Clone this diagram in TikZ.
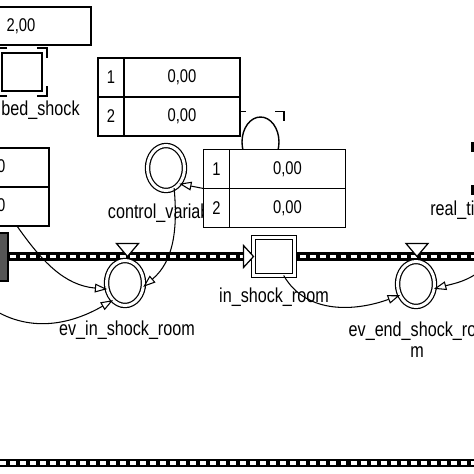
\documentclass[tikz,border=0pt]{standalone}
\usepackage{fontspec}
\setmainfont{Liberation Sans}[FakeStretch=0.8]
\usepackage{tikz}
\usetikzlibrary{shapes.geometric,arrows.meta,positioning}
\tikzset{>={Triangle[open,length=7pt,width=5pt]}}
\tikzset{
  cellbox/.style={shape=rectangle,draw,fill=white,line width=0.85pt,inner sep=0pt,outer sep=0pt,minimum height=0.78cm,font=\fontsize{10.5}{12}\selectfont},
  idxcell/.style={cellbox,minimum width=0.52cm},
  valcell/.style={cellbox,minimum width=2.32cm},
  auxvar/.style={shape=ellipse,draw,fill=white,double,double distance=1.7pt,line width=0.7pt,minimum width=0.74cm,minimum height=0.9cm,inner sep=0pt,outer sep=0pt},
  ghostvar/.style={shape=ellipse,draw,fill=white,line width=0.8pt,minimum width=0.74cm,minimum height=1.0cm,inner sep=0pt},
  levelbox/.style={shape=rectangle,draw,fill=white,double,double distance=1.4pt,line width=0.8pt,minimum width=0.82cm,minimum height=0.76cm,inner sep=0pt,outer sep=0pt},
  varlabel/.style={font=\fontsize{11.5}{12}\selectfont,inner sep=0pt},
  pipe/.style={line width=5pt,postaction={draw=white,line width=1.9pt,dash pattern=on 3.4pt off 2.3pt}},
  link/.style={->,line width=0.6pt},
  valve/.style={draw,fill=white,line width=0.7pt},
  bracket/.style={line width=0.9pt}
}

\begin{document}
\begin{tikzpicture}[x=0.02cm,y=0.02cm]

\useasboundingbox (0,0) rectangle (474,-474);
\clip (0,0) rectangle (474,-474);

\draw[pipe] (-10,-256.5) -- (490,-256.5);
\draw[pipe] (-10,-463) -- (490,-463);

\path (260.5,-142) node (g1) [ghostvar] {};
\draw[bracket] ([shift={(-21,5)}]g1.north) -- ++(6,0);
\draw[bracket] ([shift={(-21,5)}]g1.north) -- ++(0,-10);
\draw[bracket] ([shift={(14.5,5)}]g1.north) -- ++(9,0) -- ++(0,-10);

\fill (471,-142) rectangle (476,-152);
\fill (471,-185) rectangle (476,-195);

\path (80,-110) node (lbs) [varlabel,anchor=east] {bed\_shock};
\path (165,-213) node (lcv) [varlabel] {control\_variable};
\path (127,-330) node (lev1) [varlabel] {ev\_in\_shock\_room};
\path (274,-297) node (lis) [varlabel] {in\_shock\_room};
\path (417,-340) node (lev2) [varlabel,align=center] {ev\_end\_shock\_roo\\m};
\path (430,-210) node (lrt) [varlabel,anchor=west] {real\_time};

\path (21,-26) node (cst) [cellbox,minimum width=2.8cm,minimum height=0.76cm] {2,00};

\path (111,-77.5) node (t1a) [idxcell] {1};
\node (t1b) [valcell,right=0pt of t1a] {0,00};
\node (t1c) [idxcell,below=0pt of t1a] {2};
\node (t1d) [valcell,right=0pt of t1c] {0,00};

\path (-80,-167.5) node (t2a) [idxcell] {1};
\node (t2b) [valcell,right=0pt of t2a] {0,00};
\node (t2c) [idxcell,below=0pt of t2a] {2};
\node (t2d) [valcell,right=0pt of t2c] {0,00};

\path (216.5,-169) node (t3a) [idxcell] {1};
\node (t3b) [valcell,right=0pt of t3a] {0,00};
\node (t3c) [idxcell,below=0pt of t3a] {2};
\node (t3d) [valcell,right=0pt of t3c] {0,00};

\path (22,-72) node (s3) [shape=rectangle,draw,line width=1pt,minimum width=0.8cm,minimum height=0.76cm,inner sep=0pt,outer sep=0pt] {};
\draw[bracket] ([shift={(-5,5)}]s3.north east) -- ++(10,0) -- ++(0,-10);
\draw[bracket] ([shift={(-5,-5)}]s3.south east) -- ++(10,0) -- ++(0,10);
\draw[bracket] ([shift={(5,5)}]s3.north west) -- ++(-10,0) -- ++(0,-10);
\draw[bracket] ([shift={(5,-5)}]s3.south west) -- ++(-10,0) -- ++(0,10);

\path (166,-168) node (cv) [auxvar] {};
\path (125,-283) node (ev1) [auxvar] {};
\path (416,-284) node (ev2) [auxvar] {};

\coordinate (v1) at (127.5,-256.5);
\coordinate (v2) at (417,-256.5);
\draw[valve] (v1) -- ++(-11,13) -- ++(22,0) -- cycle;
\draw[valve] (v2) -- ++(-11,13) -- ++(22,0) -- cycle;

\path (-16,-257) node (s1) [shape=rectangle,draw,line width=0.9pt,fill={rgb:red,128;green,128;blue,128},minimum width=0.96cm,minimum height=0.96cm,inner sep=0pt,outer sep=0pt] {};
\path (274,-256.5) node (s2) [levelbox] {};
\draw[valve] (s2.west) -- ++(-10,11) -- ++(0,-22) -- cycle;

\coordinate (c2s) at (-12,-306);
\coordinate (c6s) at (484,-268);

\draw[link] ([shift={(26,0)}]t2d.south) to[out=-55,in=175] (ev1.199);
\draw[link] (c2s) to[out=-35,in=210] (ev1.235);
\draw[link] (cv.-68) to[out=-85,in=40] (ev1.-12);
\draw[link] (t3a.south west) -- (cv.-50);
\draw[link] (s2.-63) to[out=-60,in=200] (ev2.215);
\draw[link] (c6s) to[out=220,in=15] (ev2.-15);

\end{tikzpicture}
\end{document}
